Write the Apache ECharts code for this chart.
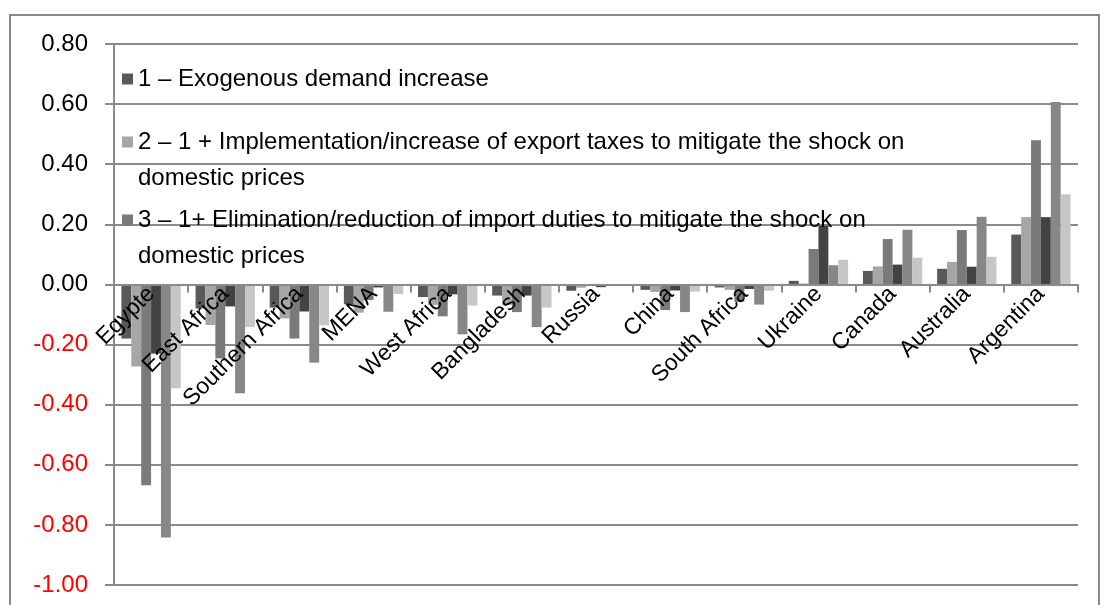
<!DOCTYPE html>
<html>
<head>
<meta charset="utf-8">
<script src="https://cdn.jsdelivr.net/npm/echarts@6/dist/echarts.min.js"></script>
<style>html,body{margin:0;padding:0;background:#fff}#c{width:1104px;height:605px}</style>
</head>
<body>
<div id="c"></div>
<script>
const categories = ['Egypte','East Africa','Southern Africa','MENA','West Africa','Bangladesh','Russia','China','South Africa','Ukraine','Canada','Australia','Argentina'];
const seriesNames = [
  '1 – Exogenous demand increase',
  '2 – 1 + Implementation/increase of export taxes to mitigate the shock on domestic prices',
  '3 – 1+ Elimination/reduction of import duties to mitigate the shock on domestic prices',
  '4', '5', '6'
];
const s1 = [-0.180, -0.080, -0.077, -0.066, -0.042, -0.037, -0.021, -0.018, -0.010, 0.012, 0.045, 0.052, 0.166];
const s2 = [-0.273, -0.135, -0.113, -0.094, -0.068, -0.068, -0.011, -0.025, -0.018, 0.003, 0.060, 0.075, 0.224];
const s3 = [-0.668, -0.246, -0.180, -0.052, -0.106, -0.092, -0.005, -0.085, -0.058, 0.118, 0.151, 0.181, 0.480];
const s4 = [-0.230, -0.073, -0.090, -0.010, -0.033, -0.037, -0.009, -0.020, -0.015, 0.196, 0.066, 0.059, 0.224];
const s5 = [-0.842, -0.362, -0.260, -0.091, -0.166, -0.142, -0.003, -0.092, -0.067, 0.064, 0.182, 0.225, 0.607];
const s6 = [-0.345, -0.142, -0.136, -0.032, -0.070, -0.077, -0.003, -0.024, -0.021, 0.082, 0.089, 0.092, 0.300];
const yTicks = {min: -1, max: 0.8, interval: 0.2};

const colors = ['#595959', '#a6a6a6', '#7a7a7a', '#434343', '#878787', '#c6c6c6'];
const allData = [s1, s2, s3, s4, s5, s6];
const FONT = "'Liberation Sans', Arial, sans-serif";
const gridColor = '#8a8a8a';
const LH = 36;

const chart = echarts.init(document.getElementById('c'), null, {renderer: 'canvas'});

function legendBlock(name, top, twoLines) {
  return {
    data: [name],
    left: 122,
    top: top,
    padding: 0,
    orient: 'vertical',
    itemWidth: 11,
    itemHeight: twoLines ? 11 + LH : 11,
    selectedMode: false,
    icon: twoLines ? 'path://M0,0H11V11H0Z M0,' + (11 + LH) + 'H0.01V' + (11 + LH - 0.01) + 'Z' : 'rect',
    formatter: function (n) {
      return n.replace(' to mitigate the shock on domestic prices', ' to mitigate the shock on\ndomestic prices');
    },
    textStyle: {fontFamily: FONT, fontSize: 24, color: '#000', lineHeight: LH}
  };
}

const option = {
  animation: false,
  backgroundColor: '#fff',
  graphic: [{
    type: 'rect',
    shape: {x: 10, y: 15, width: 1089, height: 620},
    style: {fill: 'none', stroke: gridColor, lineWidth: 2},
    silent: true
  }],
  legend: [
    legendBlock(seriesNames[0], 61, false),
    legendBlock(seriesNames[1], 124, true),
    legendBlock(seriesNames[2], 202, true)
  ],
  grid: {left: 114, right: 26, top: 44, bottom: 20, containLabel: false, outerBoundsMode: 'none'},
  xAxis: {
    type: 'category',
    data: categories,
    z: 10,
    axisLine: {onZero: true, lineStyle: {color: gridColor, width: 2}},
    axisTick: {show: true, length: 8, lineStyle: {color: gridColor, width: 2}},
    axisLabel: {interval: 0, rotate: 45, margin: 6, fontFamily: FONT, fontSize: 23, color: '#000'},
    splitLine: {show: false}
  },
  yAxis: {
    type: 'value',
    min: yTicks.min, max: yTicks.max, interval: yTicks.interval,
    axisLine: {show: true, lineStyle: {color: gridColor, width: 2}},
    axisTick: {show: true, length: 9, lineStyle: {color: gridColor, width: 2}},
    splitLine: {show: true, lineStyle: {color: gridColor, width: 2}},
    axisLabel: {
      margin: 26,
      fontFamily: FONT, fontSize: 24,
      formatter: function (v) {
        const t = v.toFixed(2);
        return v < -1e-9 ? '{r|' + t + '}' : '{b|' + t + '}';
      },
      rich: {
        r: {color: '#ff0000', fontFamily: FONT, fontSize: 24},
        b: {color: '#000000', fontFamily: FONT, fontSize: 24}
      }
    }
  },
  series: allData.map(function (d, i) {
    return {
      name: seriesNames[i],
      type: 'bar',
      data: d,
      barGap: '0%',
      barCategoryGap: '20%',
      itemStyle: {color: colors[i]},
      z: 1
    };
  })
};
chart.setOption(option);

// Place the category axis (line, ticks and labels) at the value-axis zero, using the library's own scale.
const zeroY = chart.convertToPixel({yAxisIndex: 0}, 0);
const minY = chart.convertToPixel({yAxisIndex: 0}, yTicks.min);
chart.setOption({
  xAxis: {axisLine: {onZero: false}, offset: -(minY - zeroY)}
});
</script>
</body>
</html>
